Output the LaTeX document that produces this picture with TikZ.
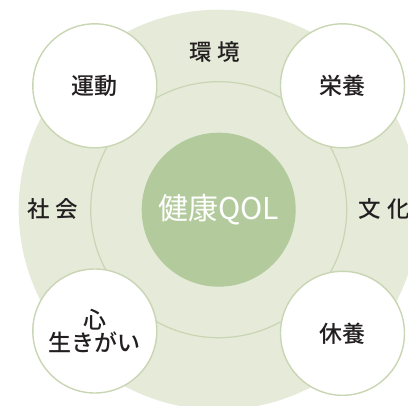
\documentclass[tikz,border=0pt]{standalone}
\usepackage{fontspec}
\newfontfamily\jpfont{Noto Sans CJK JP}
\newfontfamily\jpbold{Noto Sans CJK JP Medium}
\definecolor{outerbg}{HTML}{E5EAD9}
\definecolor{ringline}{HTML}{C9D6B3}
\definecolor{coregreen}{HTML}{B3CB9C}
\definecolor{txt}{HTML}{231F20}
\begin{document}
\begin{tikzpicture}[x=1pt,y=-1pt,
  factor/.style={circle,draw=ringline,line width=1.4pt,fill=white,minimum size=124pt,inner sep=0pt,
    font=\jpbold\fontsize{23}{27}\selectfont,text=txt,align=center},
  lbl/.style={font=\jpbold\fontsize{22.5}{26}\selectfont,text=txt}]
\useasboundingbox (0,0) rectangle (408,406);
\clip (0,0) rectangle (408,406);
\node[circle,fill=outerbg,minimum size=400pt,inner sep=0pt] (outer) at (218.7,209.7) {};
\node[circle,fill=outerbg,draw=ringline,line width=1.2pt,minimum size=256pt,inner sep=0pt] (ring) at (218.7,209.7) {};
\node[circle,fill=coregreen,minimum size=154pt,inner sep=0pt,text=white,font=\jpfont\fontsize{30}{33}\selectfont] (core) at (218.7,209.7) {健康QOL};
\node[factor] (undou) at (94.8,85.8) {運動};
\node[factor] (eiyou) at (342.5,85.8) {栄養};
\node[factor] (kokoro) at (94.8,331) {心\\[-4pt]生きがい};
\node[factor] (kyuuyou) at (342.5,333.3) {休養};
\node[lbl] (kankyou) at (215,51.5) {環\hspace{6pt}境};
\node[lbl] (shakai) at (53,209) {社\hspace{6pt}会};
\node[lbl,anchor=west] (bunka) at (355,209) {文\hspace{6pt}化};
\end{tikzpicture}
\end{document}
